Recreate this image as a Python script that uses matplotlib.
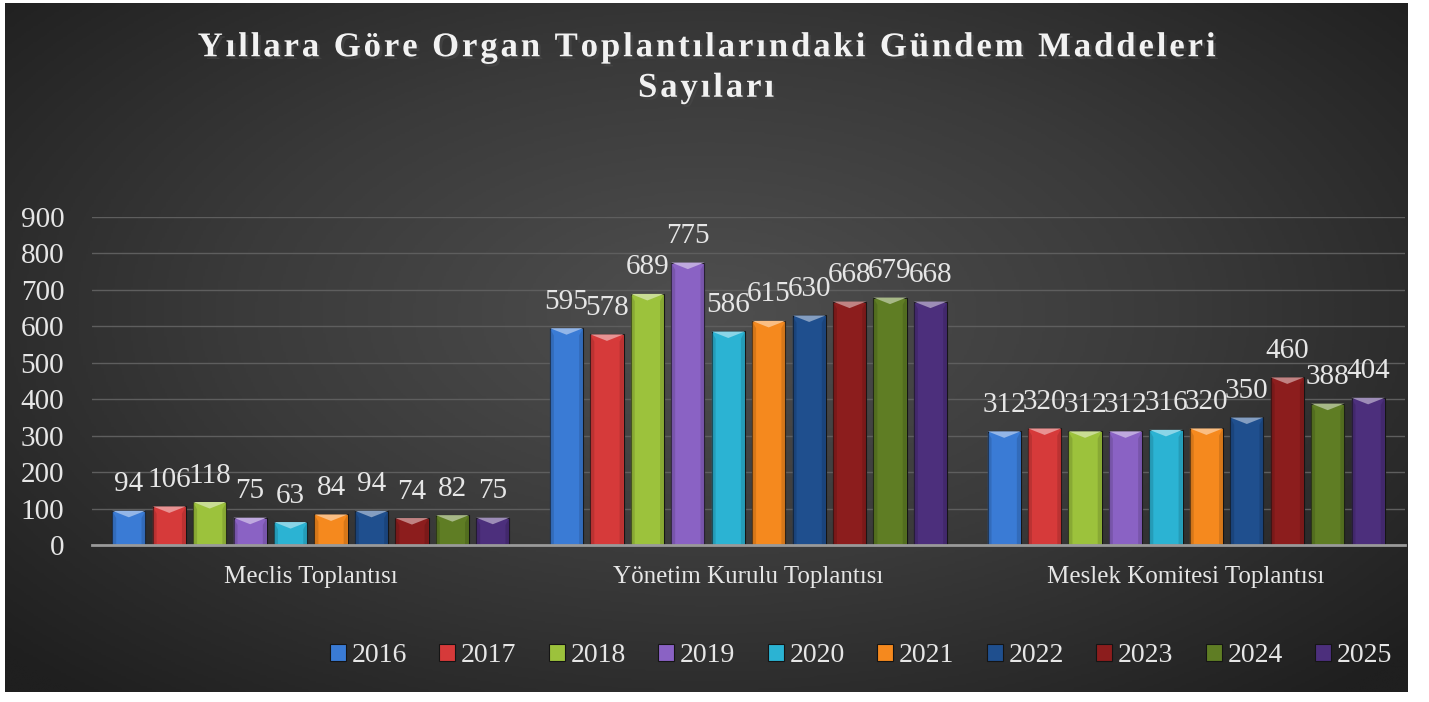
import numpy as np
import matplotlib
matplotlib.use("Agg")
import matplotlib.pyplot as plt
import matplotlib.patheffects as pe
from matplotlib.colors import LinearSegmentedColormap, to_rgb
from matplotlib.patches import Polygon

plt.rcParams["font.family"] = ["Liberation Serif", "DejaVu Serif"]

# Daten
kategorien = ["Meclis Toplantısı", "Yönetim Kurulu Toplantısı", "Meslek Komitesi Toplantısı"]
jahre = ["2016", "2017", "2018", "2019", "2020", "2021", "2022", "2023", "2024", "2025"]
meclis = [94, 106, 118, 75, 63, 84, 94, 74, 82, 75]
yonetim = [595, 578, 689, 775, 586, 615, 630, 668, 679, 668]
meslek = [312, 320, 312, 312, 316, 320, 350, 460, 388, 404]
werte = np.array([meclis, yonetim, meslek])  # Zeilen = Kategorien, Spalten = Jahre

farben = ["#3a7bd5", "#d63a3a", "#9cc23c", "#8a62c4", "#2bb3d3",
          "#f5891e", "#1f4f8e", "#8c1d1d", "#5f7d24", "#4c2f7c"]

textfarbe = "#e6e6e6"
titel = "Yıllara Göre Organ Toplantılarındaki Gündem Maddeleri\nSayıları"

fig = plt.figure(figsize=(14.29, 7.02), dpi=100)
fig.patch.set_facecolor("white")

# Hintergrund mit radialem Verlauf
bg = fig.add_axes([5 / 1429, 10 / 702, 1403 / 1429, 689 / 702])
yy, xx = np.mgrid[-1:1:300j, -1:1:600j]
r = np.sqrt((xx / 1.0) ** 2 + ((yy + 0.1) / 1.1) ** 2)
cmap_bg = LinearSegmentedColormap.from_list("bg", ["#4f4f4f", "#3a3a3a", "#1f1f1f"])
bg.imshow(r, cmap=cmap_bg, aspect="auto", extent=[0, 1, 0, 1], vmin=0, vmax=1.35)
bg.axis("off")

ax = fig.add_axes([92 / 1429, (702 - 545) / 702, 1313 / 1429, 328 / 702])
ax.set_facecolor("none")

n = len(jahre)
pitch = 0.0924
breite = 0.076
x = np.arange(len(kategorien))

for i, jahr in enumerate(jahre):
    pos = x + (i - (n - 1) / 2) * pitch
    bars = ax.bar(pos, werte[:, i], width=breite, color=farben[i], label=jahr,
                  edgecolor="#151515", linewidth=0.8, zorder=3)
    base = np.array(to_rgb(farben[i]))
    hell = np.clip(base + (1 - base) * 0.45, 0, 1)
    dunkel = base * 0.75
    for b, v in zip(bars, werte[:, i]):
        x0 = b.get_x()
        x1 = x0 + b.get_width()
        h = b.get_height()
        dx = b.get_width() * 0.12
        dy = 20
        # obere Fase
        ax.add_patch(Polygon([(x0, h), (x1, h), ((x0 + x1) / 2, h - dy * 0.9)],
                             closed=True, facecolor=hell, edgecolor="none", zorder=4))
        # seitliche Fasen
        ax.add_patch(Polygon([(x0, h), (x0 + dx, h - dy), (x0 + dx, 0), (x0, 0)],
                             closed=True, facecolor=dunkel, edgecolor="none", alpha=0.5, zorder=4))
        ax.add_patch(Polygon([(x1, h), (x1 - dx, h - dy), (x1 - dx, 0), (x1, 0)],
                             closed=True, facecolor=dunkel, edgecolor="none", alpha=0.5, zorder=4))
        ax.text(b.get_x() + b.get_width() / 2, h + 37, str(v), ha="center", va="bottom",
                fontsize=21, color=textfarbe, zorder=5)

ax.set_xlim(-0.5, 2.5)
ax.set_ylim(0, 900)
ax.set_yticks(range(0, 901, 100))
ax.set_xticks(x)
ax.set_xticklabels(kategorien)
ax.tick_params(axis="y", labelsize=21, colors=textfarbe, length=0, pad=20)
ax.tick_params(axis="x", labelsize=18, colors=textfarbe, length=0, pad=15)
ax.grid(axis="y", color="#5e5e5e", linewidth=1.0, zorder=0)
for s in ["top", "right", "left"]:
    ax.spines[s].set_visible(False)
ax.spines["bottom"].set_color("#9a9a9a")
ax.spines["bottom"].set_linewidth(2)
ax.spines["bottom"].set_zorder(6)

# Titel mit etwas Buchstabenabstand
titel_gesperrt = "\n".join("\u200a".join(zeile) for zeile in titel.split("\n"))
fig.text(706 / 1429, 1 - 68 / 702, titel_gesperrt,
         ha="center", va="center", fontsize=25, fontweight="bold", color="#f2f2f2",
         linespacing=1.3,
         path_effects=[pe.withSimplePatchShadow(offset=(2, -2), alpha=0.6)])

leg = ax.legend(loc="center", bbox_to_anchor=(861 / 1429, 1 - 656 / 702),
                bbox_transform=fig.transFigure, ncol=10, frameon=False,
                fontsize=20, handlelength=0.58, handleheight=0.58, handletextpad=0.2,
                columnspacing=1.17)
for t in leg.get_texts():
    t.set_color(textfarbe)

fig.savefig("out.png", dpi=100, facecolor=fig.get_facecolor())
